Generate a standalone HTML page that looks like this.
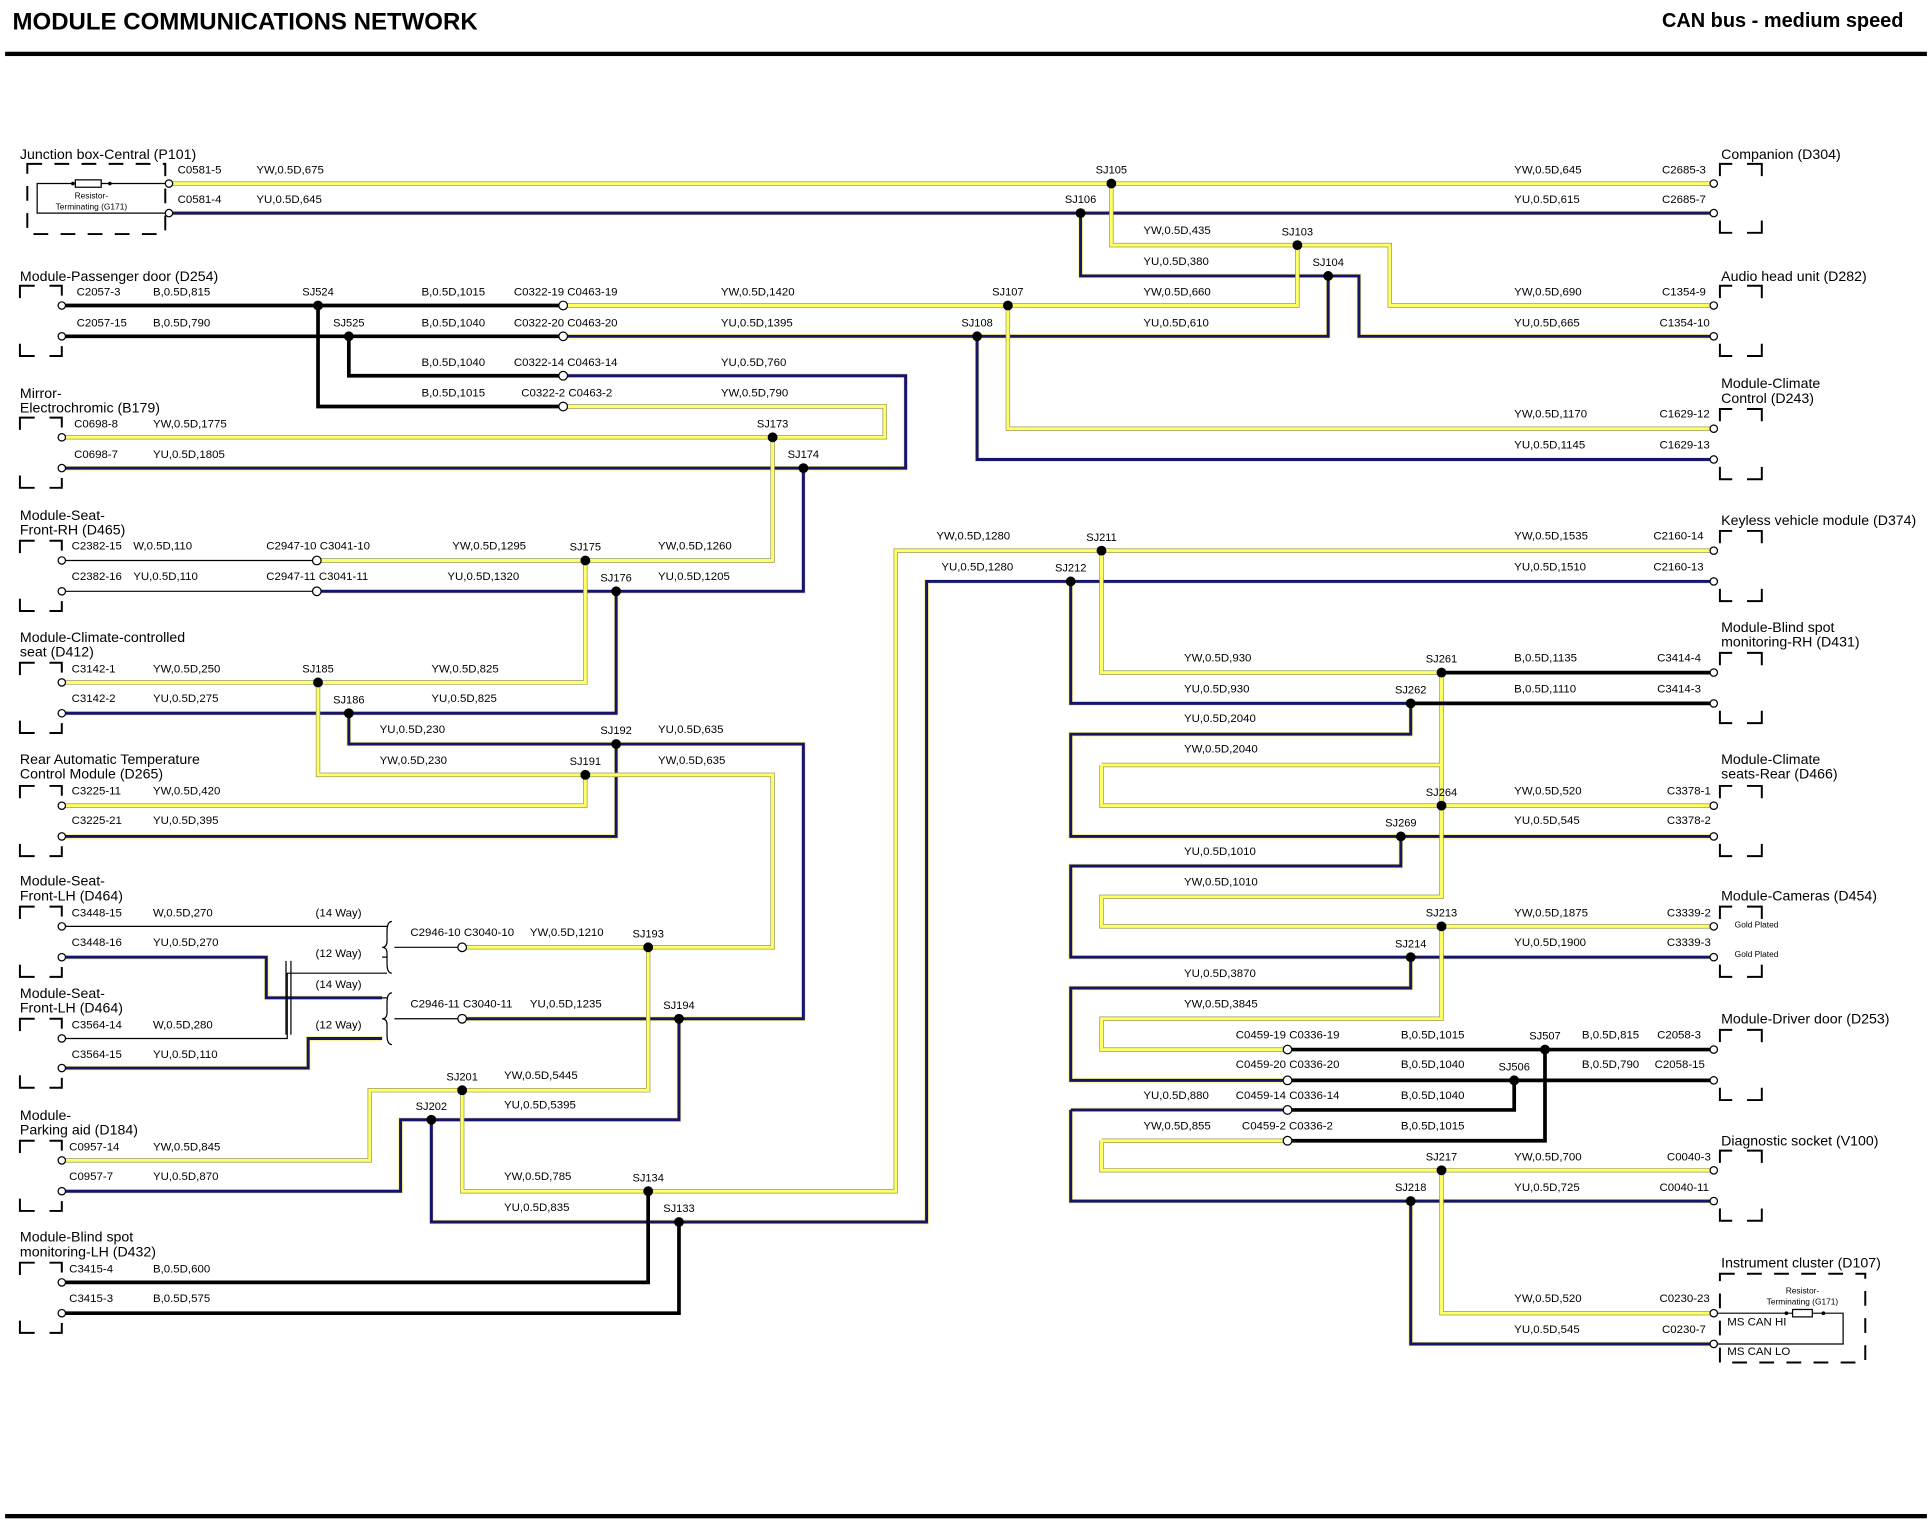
<!DOCTYPE html>
<html><head><meta charset="utf-8">
<style>
html,body{margin:0;padding:0;background:#fff;}
svg{display:block;}
text{font-family:"Liberation Sans",Arial,sans-serif;fill:#000;}
.t{font-size:9.3px;}
.m{font-size:11.5px;}
.s{font-size:9px;text-anchor:middle;}
.g{font-size:6.8px;}
</style></head><body>
<svg width="1932" height="1530" viewBox="0 0 1568 1242" xmlns="http://www.w3.org/2000/svg">
<defs>
<g id="Y" fill="none">
<path d="M137 149 H1391"/>
<path d="M902 149 V199 H1128 V248 H1391"/>
<path d="M1053 199 V248 H457"/>
<path d="M818 248 V348 H1391"/>
<path d="M457 330 H718 V355 H50"/>
<path d="M627 355 V455 H257"/>
<path d="M475 455 V554 H50"/>
<path d="M258 554 V629 H627 V769 H375"/>
<path d="M475 629 V654 H50"/>
<path d="M526 769 V885 H300 V942 H50"/>
<path d="M375 885 V967 H727 V447 H1391"/>
<path d="M894 447 V546 H1170"/>
<path d="M1170 546 V728 H894 V752 H1391"/>
<path d="M894 621 H1170 M894 621 V654 H1391"/>
<path d="M1170 752 V827 H894 V852 H1045"/>
<path d="M894 926 H1045 M894 926 V950 H1391"/>
<path d="M1170 950 V1066 H1391"/>
</g>
<g id="U" fill="none">
<path d="M137 173 H1391"/>
<path d="M877 173 V224 H1103 V273 H1391"/>
<path d="M1078 224 V273 H457"/>
<path d="M793 273 V373 H1391"/>
<path d="M457 305 H735 V380 H50"/>
<path d="M652 380 V480 H257"/>
<path d="M500 480 V579 H50"/>
<path d="M283 579 V604 H652 V827 H375"/>
<path d="M500 604 V679 H50"/>
<path d="M50 777 H216 V810 H310"/>
<path d="M50 867 H250 V843 H310"/>
<path d="M551 827 V909 H325 V967 H50"/>
<path d="M350 909 V992 H752 V472 H1391"/>
<path d="M869 472 V571 H1145"/>
<path d="M1145 571 V596 H869 V679 H1391"/>
<path d="M1137 679 V703 H869 V777 H1391"/>
<path d="M1145 777 V802 H869 V877 H1045"/>
<path d="M869 901 H1045 M869 901 V975 H1391"/>
<path d="M1145 975 V1091 H1391"/>
</g>
</defs>

<text x="10" y="24" style="font-size:19.5px;font-weight:bold">MODULE COMMUNICATIONS NETWORK</text>
<text x="1545" y="22" style="font-size:16.2px;font-weight:bold" text-anchor="end">CAN bus - medium speed</text>
<rect x="4" y="42" width="1560" height="3.5" fill="#000"/>
<rect x="4" y="1229" width="1560" height="3.5" fill="#000"/>

<use href="#U" stroke="#f4ef7a" stroke-width="3.6"/>
<use href="#U" stroke="#14146e" stroke-width="2.4"/>
<use href="#Y" stroke="#9a9a60" stroke-width="3.6"/>
<use href="#Y" stroke="#ffff66" stroke-width="2.4"/>
<g fill="none" stroke="#000" stroke-width="3">
<path d="M50 248 H457 M50 273 H457 M283 273 V305 H457 M258 248 V330 H457"/>
<path d="M526 967 V1041 H50 M551 992 V1066 H50"/>
<path d="M1170 546 H1391 M1145 571 H1391"/>
<path d="M1045 852 H1391 M1045 877 H1391 M1045 901 H1229 V877 M1045 926 H1254 V852"/>
</g>
<g fill="none" stroke="#000" stroke-width="1">
<path d="M50 455 H257 M50 480 H257 M50 752 H310 M50 843 H233 V790 H310"/>
<path d="M310 752 H314 M310 777 H314 M310 790 H314 M310 810 H314"/>
<path d="M318 748 Q314 748 314 756 V764 Q314 769 310 769 Q314 769 314 774 V782 Q314 790 318 790"/>
<path d="M318 806 Q314 806 314 814 V822 Q314 827 310 827 Q314 827 314 832 V840 Q314 848 318 848"/>
<path d="M320 769 H375 M320 827 H375"/>
<path d="M232 780 V840 M236 780 V840"/>
</g>

<g fill="#000">
<circle cx="902" cy="149" r="4"/><circle cx="877" cy="173" r="4"/><circle cx="1053" cy="199" r="4"/><circle cx="1078" cy="224" r="4"/>
<circle cx="818" cy="248" r="4"/><circle cx="793" cy="273" r="4"/><circle cx="258" cy="248" r="4"/><circle cx="283" cy="273" r="4"/>
<circle cx="627" cy="355" r="4"/><circle cx="652" cy="380" r="4"/><circle cx="475" cy="455" r="4"/><circle cx="500" cy="480" r="4"/>
<circle cx="258" cy="554" r="4"/><circle cx="283" cy="579" r="4"/><circle cx="500" cy="604" r="4"/><circle cx="475" cy="629" r="4"/>
<circle cx="526" cy="769" r="4"/><circle cx="551" cy="827" r="4"/><circle cx="375" cy="885" r="4"/><circle cx="350" cy="909" r="4"/>
<circle cx="526" cy="967" r="4"/><circle cx="551" cy="992" r="4"/><circle cx="894" cy="447" r="4"/><circle cx="869" cy="472" r="4"/>
<circle cx="1170" cy="546" r="4"/><circle cx="1145" cy="571" r="4"/><circle cx="1170" cy="654" r="4"/><circle cx="1137" cy="679" r="4"/>
<circle cx="1170" cy="752" r="4"/><circle cx="1145" cy="777" r="4"/><circle cx="1254" cy="852" r="4"/><circle cx="1229" cy="877" r="4"/>
<circle cx="1170" cy="950" r="4"/><circle cx="1145" cy="975" r="4"/>
</g>
<g class="s">
<text x="902" y="141">SJ105</text><text x="877" y="165">SJ106</text><text x="1053" y="191">SJ103</text><text x="1078" y="216">SJ104</text>
<text x="818" y="240">SJ107</text><text x="793" y="265">SJ108</text><text x="258" y="240">SJ524</text><text x="283" y="265">SJ525</text>
<text x="627" y="347">SJ173</text><text x="652" y="372">SJ174</text><text x="475" y="447">SJ175</text><text x="500" y="472">SJ176</text>
<text x="258" y="546">SJ185</text><text x="283" y="571">SJ186</text><text x="500" y="596">SJ192</text><text x="475" y="621">SJ191</text>
<text x="526" y="761">SJ193</text><text x="551" y="819">SJ194</text><text x="375" y="877">SJ201</text><text x="350" y="901">SJ202</text>
<text x="526" y="959">SJ134</text><text x="551" y="984">SJ133</text><text x="894" y="439">SJ211</text><text x="869" y="464">SJ212</text>
<text x="1170" y="538">SJ261</text><text x="1145" y="563">SJ262</text><text x="1170" y="646">SJ264</text><text x="1137" y="671">SJ269</text>
<text x="1170" y="744">SJ213</text><text x="1145" y="769">SJ214</text><text x="1254" y="844">SJ507</text><text x="1229" y="869">SJ506</text>
<text x="1170" y="942">SJ217</text><text x="1145" y="967">SJ218</text>
</g>

<g fill="#fff" stroke="#000" stroke-width="1">
<circle cx="457" cy="248" r="3.5"/><circle cx="457" cy="273" r="3.5"/><circle cx="457" cy="305" r="3.5"/><circle cx="457" cy="330" r="3.5"/>
<circle cx="257" cy="455" r="3.5"/><circle cx="257" cy="480" r="3.5"/><circle cx="375" cy="769" r="3.5"/><circle cx="375" cy="827" r="3.5"/>
<circle cx="1045" cy="852" r="3.5"/><circle cx="1045" cy="877" r="3.5"/><circle cx="1045" cy="901" r="3.5"/><circle cx="1045" cy="926" r="3.5"/>
<circle cx="137" cy="149" r="3"/><circle cx="137" cy="173" r="3"/>
<circle cx="50" cy="248" r="3"/><circle cx="50" cy="273" r="3"/><circle cx="50" cy="355" r="3"/><circle cx="50" cy="380" r="3"/>
<circle cx="50" cy="455" r="3"/><circle cx="50" cy="480" r="3"/><circle cx="50" cy="554" r="3"/><circle cx="50" cy="579" r="3"/>
<circle cx="50" cy="654" r="3"/><circle cx="50" cy="679" r="3"/><circle cx="50" cy="752" r="3"/><circle cx="50" cy="777" r="3"/>
<circle cx="50" cy="843" r="3"/><circle cx="50" cy="867" r="3"/><circle cx="50" cy="942" r="3"/><circle cx="50" cy="967" r="3"/>
<circle cx="50" cy="1041" r="3"/><circle cx="50" cy="1066" r="3"/>
<circle cx="1391" cy="149" r="3"/><circle cx="1391" cy="173" r="3"/><circle cx="1391" cy="248" r="3"/><circle cx="1391" cy="273" r="3"/>
<circle cx="1391" cy="348" r="3"/><circle cx="1391" cy="373" r="3"/><circle cx="1391" cy="447" r="3"/><circle cx="1391" cy="472" r="3"/>
<circle cx="1391" cy="546" r="3"/><circle cx="1391" cy="571" r="3"/><circle cx="1391" cy="654" r="3"/><circle cx="1391" cy="679" r="3"/>
<circle cx="1391" cy="752" r="3"/><circle cx="1391" cy="777" r="3"/><circle cx="1391" cy="852" r="3"/><circle cx="1391" cy="877" r="3"/>
<circle cx="1391" cy="950" r="3"/><circle cx="1391" cy="975" r="3"/><circle cx="1391" cy="1066" r="3"/><circle cx="1391" cy="1091" r="3"/>
</g>

<g fill="none" stroke="#000" stroke-width="1.6">
<rect x="22" y="133" width="112" height="57" stroke-dasharray="12,10"/>
<path d="M16 242 V232 H28 M40 232 H50 V240 M16 279 V289 H28 M40 289 H50 V281"/>
<path d="M16 349 V339 H28 M40 339 H50 V347 M16 386 V396 H28 M40 396 H50 V388"/>
<path d="M16 449 V439 H28 M40 439 H50 V447 M16 486 V496 H28 M40 496 H50 V488"/>
<path d="M16 548 V538 H28 M40 538 H50 V546 M16 585 V595 H28 M40 595 H50 V587"/>
<path d="M16 648 V638 H28 M40 638 H50 V646 M16 685 V695 H28 M40 695 H50 V687"/>
<path d="M16 746 V736 H28 M40 736 H50 V744 M16 783 V793 H28 M40 793 H50 V785"/>
<path d="M16 837 V827 H28 M40 827 H50 V835 M16 873 V883 H28 M40 883 H50 V875"/>
<path d="M16 936 V926 H28 M40 926 H50 V934 M16 973 V983 H28 M40 983 H50 V975"/>
<path d="M16 1035 V1025 H28 M40 1025 H50 V1033 M16 1072 V1082 H28 M40 1082 H50 V1074"/>
<path d="M1396 143 V133 H1406 M1418 133 H1430 V143 M1396 179 V189 H1406 M1418 189 H1430 V179"/>
<path d="M1396 242 V232 H1406 M1418 232 H1430 V242 M1396 279 V289 H1406 M1418 289 H1430 V279"/>
<path d="M1396 342 V332 H1406 M1418 332 H1430 V342 M1396 379 V389 H1406 M1418 389 H1430 V379"/>
<path d="M1396 441 V431 H1406 M1418 431 H1430 V441 M1396 478 V488 H1406 M1418 488 H1430 V478"/>
<path d="M1396 540 V530 H1406 M1418 530 H1430 V540 M1396 577 V587 H1406 M1418 587 H1430 V577"/>
<path d="M1396 648 V638 H1406 M1418 638 H1430 V648 M1396 685 V695 H1406 M1418 695 H1430 V685"/>
<path d="M1396 746 V736 H1406 M1418 736 H1430 V746 M1396 783 V793 H1406 M1418 793 H1430 V783"/>
<path d="M1396 846 V836 H1406 M1418 836 H1430 V846 M1396 883 V893 H1406 M1418 893 H1430 V883"/>
<path d="M1396 944 V934 H1406 M1418 934 H1430 V944 M1396 981 V991 H1406 M1418 991 H1430 V981"/>
<rect x="1396" y="1034" width="118" height="72" stroke-dasharray="12,10"/>
</g>
<g fill="none" stroke="#000" stroke-width="1">
<path d="M134 149 H82 M70 149 H30 V173 H134"/>
<rect x="61" y="146" width="21" height="6" fill="#fff"/>
<path d="M1394 1066 H1455 M1471 1066 H1496 V1091 H1394"/>
<rect x="1455" y="1063" width="16" height="6" fill="#fff"/>
</g>
<g fill="#000"><circle cx="59" cy="149" r="1.5"/><circle cx="89" cy="149" r="1.5"/><circle cx="1450" cy="1066" r="1.5"/><circle cx="1480" cy="1066" r="1.5"/></g>
<text x="74" y="161" class="g" text-anchor="middle">Resistor-</text>
<text x="74" y="170" class="g" text-anchor="middle">Terminating (G171)</text>
<text x="1463" y="1050" class="g" text-anchor="middle">Resistor-</text>
<text x="1463" y="1059" class="g" text-anchor="middle">Terminating (G171)</text>
<text x="1402" y="1076" class="t">MS CAN HI</text>
<text x="1402" y="1100" class="t">MS CAN LO</text>
<text x="1408" y="753" class="g">Gold Plated</text>
<text x="1408" y="777" class="g">Gold Plated</text>

<g class="m">
<text x="16" y="129">Junction box-Central (P101)</text>
<text x="16" y="228">Module-Passenger door (D254)</text>
<text x="16" y="323">Mirror-</text><text x="16" y="335">Electrochromic (B179)</text>
<text x="16" y="422">Module-Seat-</text><text x="16" y="434">Front-RH (D465)</text>
<text x="16" y="521">Module-Climate-controlled</text><text x="16" y="533">seat (D412)</text>
<text x="16" y="620">Rear Automatic Temperature</text><text x="16" y="632">Control Module (D265)</text>
<text x="16" y="719">Module-Seat-</text><text x="16" y="731">Front-LH (D464)</text>
<text x="16" y="810">Module-Seat-</text><text x="16" y="822">Front-LH (D464)</text>
<text x="16" y="909">Module-</text><text x="16" y="921">Parking aid (D184)</text>
<text x="16" y="1008">Module-Blind spot</text><text x="16" y="1020">monitoring-LH (D432)</text>
<text x="1397" y="129">Companion (D304)</text>
<text x="1397" y="228">Audio head unit (D282)</text>
<text x="1397" y="315">Module-Climate</text><text x="1397" y="327">Control (D243)</text>
<text x="1397" y="426">Keyless vehicle module (D374)</text>
<text x="1397" y="513">Module-Blind spot</text><text x="1397" y="525">monitoring-RH (D431)</text>
<text x="1397" y="620">Module-Climate</text><text x="1397" y="632">seats-Rear (D466)</text>
<text x="1397" y="731">Module-Cameras (D454)</text>
<text x="1397" y="831">Module-Driver door (D253)</text>
<text x="1397" y="930">Diagnostic socket (V100)</text>
<text x="1397" y="1029">Instrument cluster (D107)</text>
</g>

<g class="t">
<text x="144" y="141">C0581-5</text><text x="208" y="141">YW,0.5D,675</text><text x="1229" y="141">YW,0.5D,645</text><text x="1349" y="141">C2685-3</text>
<text x="144" y="165">C0581-4</text><text x="208" y="165">YU,0.5D,645</text><text x="1229" y="165">YU,0.5D,615</text><text x="1349" y="165">C2685-7</text>
<text x="928" y="190">YW,0.5D,435</text><text x="928" y="215">YU,0.5D,380</text>
<text x="928" y="240">YW,0.5D,660</text><text x="928" y="265">YU,0.5D,610</text>
<text x="1229" y="240">YW,0.5D,690</text><text x="1349" y="240">C1354-9</text>
<text x="1229" y="265">YU,0.5D,665</text><text x="1347" y="265">C1354-10</text>
<text x="62" y="240">C2057-3</text><text x="124" y="240">B,0.5D,815</text><text x="342" y="240">B,0.5D,1015</text><text x="417" y="240">C0322-19 C0463-19</text><text x="585" y="240">YW,0.5D,1420</text>
<text x="62" y="265">C2057-15</text><text x="124" y="265">B,0.5D,790</text><text x="342" y="265">B,0.5D,1040</text><text x="417" y="265">C0322-20 C0463-20</text><text x="585" y="265">YU,0.5D,1395</text>
<text x="342" y="297">B,0.5D,1040</text><text x="417" y="297">C0322-14 C0463-14</text><text x="585" y="297">YU,0.5D,760</text>
<text x="342" y="322">B,0.5D,1015</text><text x="423" y="322">C0322-2 C0463-2</text><text x="585" y="322">YW,0.5D,790</text>
<text x="1229" y="339">YW,0.5D,1170</text><text x="1347" y="339">C1629-12</text>
<text x="1229" y="364">YU,0.5D,1145</text><text x="1347" y="364">C1629-13</text>
<text x="60" y="347">C0698-8</text><text x="124" y="347">YW,0.5D,1775</text>
<text x="60" y="372">C0698-7</text><text x="124" y="372">YU,0.5D,1805</text>
<text x="58" y="446">C2382-15</text><text x="108" y="446">W,0.5D,110</text><text x="216" y="446">C2947-10 C3041-10</text><text x="367" y="446">YW,0.5D,1295</text><text x="534" y="446">YW,0.5D,1260</text>
<text x="58" y="471">C2382-16</text><text x="108" y="471">YU,0.5D,110</text><text x="216" y="471">C2947-11 C3041-11</text><text x="363" y="471">YU,0.5D,1320</text><text x="534" y="471">YU,0.5D,1205</text>
<text x="760" y="438">YW,0.5D,1280</text><text x="764" y="463">YU,0.5D,1280</text>
<text x="1229" y="438">YW,0.5D,1535</text><text x="1342" y="438">C2160-14</text>
<text x="1229" y="463">YU,0.5D,1510</text><text x="1342" y="463">C2160-13</text>
<text x="58" y="546">C3142-1</text><text x="124" y="546">YW,0.5D,250</text><text x="350" y="546">YW,0.5D,825</text>
<text x="58" y="570">C3142-2</text><text x="124" y="570">YU,0.5D,275</text><text x="350" y="570">YU,0.5D,825</text>
<text x="308" y="595">YU,0.5D,230</text><text x="534" y="595">YU,0.5D,635</text>
<text x="308" y="620">YW,0.5D,230</text><text x="534" y="620">YW,0.5D,635</text>
<text x="58" y="645">C3225-11</text><text x="124" y="645">YW,0.5D,420</text>
<text x="58" y="669">C3225-21</text><text x="124" y="669">YU,0.5D,395</text>
<text x="58" y="744">C3448-15</text><text x="124" y="744">W,0.5D,270</text><text x="256" y="744">(14 Way)</text>
<text x="58" y="768">C3448-16</text><text x="124" y="768">YU,0.5D,270</text><text x="256" y="777">(12 Way)</text>
<text x="256" y="802">(14 Way)</text><text x="256" y="835">(12 Way)</text>
<text x="333" y="760">C2946-10 C3040-10</text><text x="430" y="760">YW,0.5D,1210</text>
<text x="333" y="818">C2946-11 C3040-11</text><text x="430" y="818">YU,0.5D,1235</text>
<text x="58" y="835">C3564-14</text><text x="124" y="835">W,0.5D,280</text>
<text x="58" y="859">C3564-15</text><text x="124" y="859">YU,0.5D,110</text>
<text x="409" y="876">YW,0.5D,5445</text><text x="409" y="900">YU,0.5D,5395</text>
<text x="56" y="934">C0957-14</text><text x="124" y="934">YW,0.5D,845</text>
<text x="56" y="958">C0957-7</text><text x="124" y="958">YU,0.5D,870</text>
<text x="409" y="958">YW,0.5D,785</text><text x="409" y="983">YU,0.5D,835</text>
<text x="56" y="1033">C3415-4</text><text x="124" y="1033">B,0.5D,600</text>
<text x="56" y="1057">C3415-3</text><text x="124" y="1057">B,0.5D,575</text>
<text x="961" y="537">YW,0.5D,930</text><text x="1229" y="537">B,0.5D,1135</text><text x="1345" y="537">C3414-4</text>
<text x="961" y="562">YU,0.5D,930</text><text x="1229" y="562">B,0.5D,1110</text><text x="1345" y="562">C3414-3</text>
<text x="961" y="586">YU,0.5D,2040</text><text x="961" y="611">YW,0.5D,2040</text>
<text x="1229" y="645">YW,0.5D,520</text><text x="1353" y="645">C3378-1</text>
<text x="1229" y="669">YU,0.5D,545</text><text x="1353" y="669">C3378-2</text>
<text x="961" y="694">YU,0.5D,1010</text><text x="961" y="719">YW,0.5D,1010</text>
<text x="1229" y="744">YW,0.5D,1875</text><text x="1353" y="744">C3339-2</text>
<text x="1229" y="768">YU,0.5D,1900</text><text x="1353" y="768">C3339-3</text>
<text x="961" y="793">YU,0.5D,3870</text><text x="961" y="818">YW,0.5D,3845</text>
<text x="1003" y="843">C0459-19 C0336-19</text><text x="1137" y="843">B,0.5D,1015</text><text x="1284" y="843">B,0.5D,815</text><text x="1345" y="843">C2058-3</text>
<text x="1003" y="867">C0459-20 C0336-20</text><text x="1137" y="867">B,0.5D,1040</text><text x="1284" y="867">B,0.5D,790</text><text x="1343" y="867">C2058-15</text>
<text x="928" y="892">YU,0.5D,880</text><text x="1003" y="892">C0459-14 C0336-14</text><text x="1137" y="892">B,0.5D,1040</text>
<text x="928" y="917">YW,0.5D,855</text><text x="1008" y="917">C0459-2 C0336-2</text><text x="1137" y="917">B,0.5D,1015</text>
<text x="1229" y="942">YW,0.5D,700</text><text x="1353" y="942">C0040-3</text>
<text x="1229" y="967">YU,0.5D,725</text><text x="1347" y="967">C0040-11</text>
<text x="1229" y="1057">YW,0.5D,520</text><text x="1347" y="1057">C0230-23</text>
<text x="1229" y="1082">YU,0.5D,545</text><text x="1349" y="1082">C0230-7</text>
</g>
</svg>
</body></html>
